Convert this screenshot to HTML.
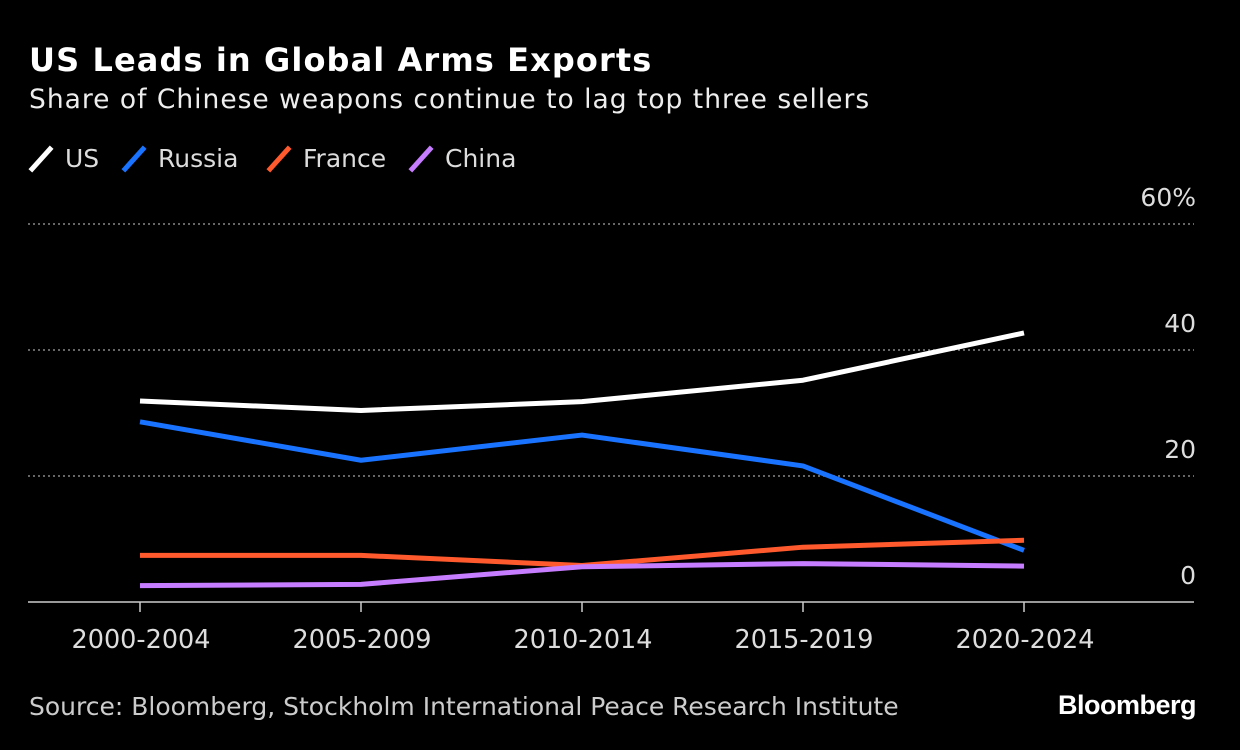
<!DOCTYPE html>
<html><head><meta charset="utf-8"><style>
body{margin:0;background:#000;width:1240px;height:750px;overflow:hidden;font-family:"DejaVu Sans",sans-serif;color:#fff}
.t{position:absolute;white-space:nowrap}
</style></head><body>
<div class="t" style="left:29px;top:41px;font-size:32px;font-weight:bold;letter-spacing:1.1px">US Leads in Global Arms Exports</div>
<div class="t" style="left:29px;top:84px;font-size:26.5px;color:#eee;letter-spacing:1px">Share of Chinese weapons continue to lag top three sellers</div>
<div class="t" style="left:29px;top:692px;font-size:25px;color:#ccc">Source: Bloomberg, Stockholm International Peace Research Institute</div>
<div class="t" style="left:1058px;top:690px;font-size:27px;font-weight:bold;letter-spacing:-0.5px;font-family:'Liberation Sans',sans-serif">Bloomberg</div>
<svg id="c" width="1240" height="750" style="position:absolute;left:0;top:0"></svg>
<script>
const categories=["2000-2004","2005-2009","2010-2014","2015-2019","2020-2024"];
const seriesNames=["US","Russia","France","China"];
const seriesColors=["#ffffff","#1a73ff","#ff5a2e","#c77dff"];
const usVals=[31.9,30.4,31.8,35.2,42.7];
const russiaVals=[28.6,22.5,26.5,21.6,8.2];
const franceVals=[7.4,7.4,5.8,8.7,9.8];
const chinaVals=[2.6,2.8,5.6,6.1,5.7];
const yTicks=[0,20,40,60];
const yLabels=["0","20","40","60%"];
const allVals=[usVals,russiaVals,franceVals,chinaVals];
const svg=document.getElementById('c');const NS="http://www.w3.org/2000/svg";
const x=i=>140+i*221, y=v=>602-v*6.3;
function mk(t,a){const e=document.createElementNS(NS,t);for(const k in a)e.setAttribute(k,a[k]);svg.appendChild(e);return e;}
yTicks.forEach((v,i)=>{
 if(v>0){const g=mk('line',{x1:28,x2:1194,y1:y(v),y2:y(v),stroke:'#888','stroke-width':1.5,'stroke-dasharray':'2,3'});
 
 }
 const t=mk('text',{x:1196,y:y(v)-18,'text-anchor':'end',fill:'#ddd','font-size':25,'font-family':'DejaVu Sans, sans-serif'});t.textContent=yLabels[i];
 
 
});
const ax=mk('line',{x1:28,x2:1194,y1:602,y2:602,stroke:'#ccc','stroke-width':1.5});


categories.forEach((c,i)=>{
 const tk=mk('line',{x1:x(i),x2:x(i),y1:602,y2:612,stroke:'#ccc','stroke-width':1.5});
 
 
 const t=mk('text',{x:x(i)+1,y:648,'text-anchor':'middle',fill:'#ddd','font-size':25.5,'font-family':'DejaVu Sans, sans-serif'});t.textContent=c;
 
 
});
allVals.forEach((vals,s)=>{
 const p=mk('polyline',{points:vals.map((v,i)=>x(i)+','+y(v)).join(' '),fill:'none',stroke:seriesColors[s],'stroke-width':5,'stroke-linejoin':'round'});
 
 
});
let lx=30;const lw=[93,145,142,120];
seriesNames.forEach((n,s)=>{
 const l=mk('line',{x1:lx+2,y1:169,x2:lx+20,y2:149,stroke:seriesColors[s],'stroke-width':5,'stroke-linecap':'square'});
 
 
 const t=mk('text',{x:lx+35,y:167,fill:'#ddd','font-size':25,'font-family':'DejaVu Sans, sans-serif'});t.textContent=n;
 
 
 lx+=lw[s];
});
</script>
</body></html>
